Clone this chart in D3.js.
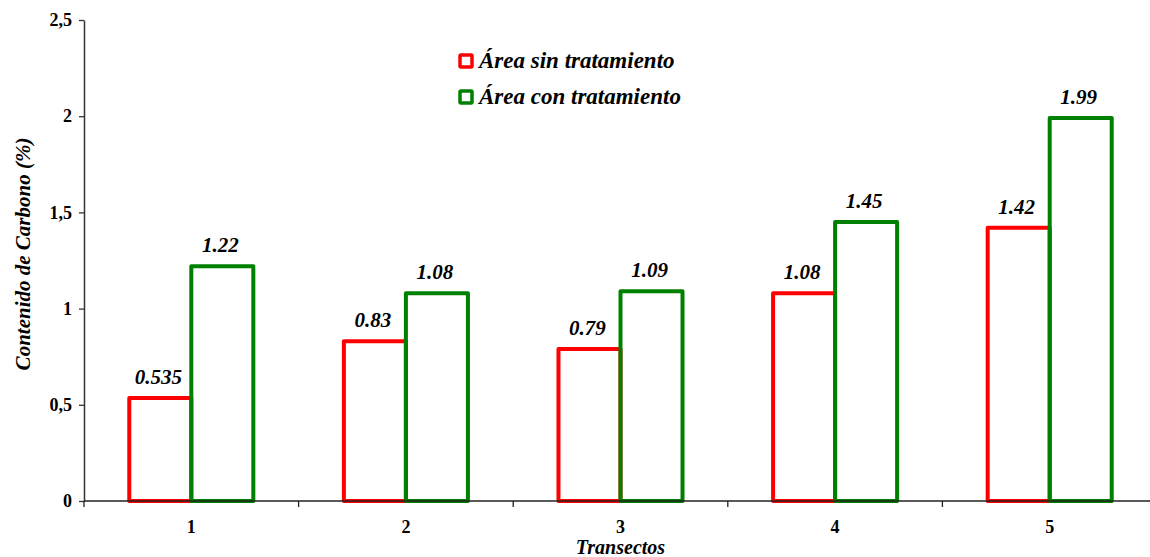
<!DOCTYPE html>
<html>
<head>
<meta charset="utf-8">
<script src="https://cdn.jsdelivr.net/npm/d3@7"></script>
<style>
  html, body { margin: 0; padding: 0; background: #fff; }
  svg { display: block; }
</style>
</head>
<body>
<svg id="chart" width="1150" height="557"></svg>
<script>
// Carbon content per transect, untreated vs treated area
const categories = ["1", "2", "3", "4", "5"];
const seriesNames = ["Área sin tratamiento", "Área con tratamiento"];
const sinTratamiento = [0.535, 0.83, 0.79, 1.08, 1.42];
const conTratamiento = [1.22, 1.08, 1.09, 1.45, 1.99];
const valueLabelsSin = ["0.535", "0.83", "0.79", "1.08", "1.42"];
const valueLabelsCon = ["1.22", "1.08", "1.09", "1.45", "1.99"];
const yTickValues = [0, 0.5, 1, 1.5, 2, 2.5];
const yTickLabels = ["0", "0,5", "1", "1,5", "2", "2,5"];
const seriesColors = ["#ff0000", "#008000"];

const FONT = "'Liberation Serif', 'Times New Roman', Times, serif";
const svg = d3.select("#chart");
const W = 1150;
const plotLeft = 84, plotRight = 1157, plotTop = 20, plotBottom = 501;

// shared text styling helper
function styleText(sel, size, italic) {
  return sel.style("font-family", FONT).style("font-weight", "bold")
    .style("font-style", italic ? "italic" : "normal")
    .style("font-size", size + "px").style("fill", "#000");
}

const x0 = d3.scaleBand().domain(categories).range([plotLeft, plotRight])
  .paddingInner(0.422).paddingOuter(0.211);
const x1 = d3.scaleBand().domain([0, 1]).range([0, x0.bandwidth()]);
const y = d3.scaleLinear().domain([0, 2.5]).range([plotBottom, plotTop]);

const series = [sinTratamiento, conTratamiento];
const labels = [valueLabelsSin, valueLabelsCon];

// Bars: outlined rectangles, treated series drawn on top
series.forEach((vals, s) => {
  svg.append("g").selectAll("rect").data(vals).join("rect")
    .attr("x", (d, i) => x0(categories[i]) + x1(s))
    .attr("y", d => y(d))
    .attr("width", x1.bandwidth())
    .attr("height", d => y(0) - y(d))
    .attr("fill", "none")
    .attr("stroke", seriesColors[s])
    .attr("stroke-width", 4)
    .attr("stroke-linejoin", "round");
});

// Value labels above each bar
series.forEach((vals, s) => {
  svg.append("g").selectAll("text").data(vals).join("text")
    .attr("x", (d, i) => x0(categories[i]) + x1(s) + x1.bandwidth() / 2 - 2)
    .attr("y", d => y(d) - 14)
    .attr("text-anchor", "middle")
    .call(styleText, 21, true)
    .text((d, i) => labels[s][i]);
});

// Y axis
const yAxis = d3.axisLeft(y).tickValues(yTickValues)
  .tickFormat((d, i) => yTickLabels[i]).tickSize(5).tickSizeOuter(0).tickPadding(7);
const gy = svg.append("g").attr("transform", `translate(${plotLeft},0)`).call(yAxis);
gy.select(".domain").attr("stroke", "#333").attr("stroke-width", 1.5);
gy.selectAll(".tick line").attr("stroke", "#333").attr("stroke-width", 1.3);
gy.selectAll(".tick text").call(styleText, 18, false);

// X axis baseline with ticks at category boundaries
const gx = svg.append("g");
gx.append("line").attr("x1", plotLeft).attr("x2", W).attr("y1", y(0)).attr("y2", y(0))
  .attr("stroke", "#222").attr("stroke-width", 1.5);
const boundaries = categories.map(c => x0(c) - x0.step() * x0.paddingInner() / 2);
gx.selectAll("line.b").data(boundaries).join("line").attr("class", "b")
  .attr("x1", d => d).attr("x2", d => d)
  .attr("y1", y(0)).attr("y2", y(0) + 6)
  .attr("stroke", "#222").attr("stroke-width", 1.3);
gx.selectAll("text").data(categories).join("text")
  .attr("x", d => x0(d) + x0.bandwidth() / 2)
  .attr("y", 533)
  .attr("text-anchor", "middle")
  .call(styleText, 18, false)
  .text(d => d);

// Axis titles
svg.append("text")
  .attr("transform", `translate(30,254) rotate(-90)`)
  .attr("text-anchor", "middle")
  .call(styleText, 21, true)
  .text("Contenido de Carbono (%)");
svg.append("text")
  .attr("x", x0("3") + x0.bandwidth() / 2).attr("y", 554)
  .attr("text-anchor", "middle")
  .call(styleText, 20, true)
  .text("Transectos");

// Legend
const legend = svg.append("g");
seriesNames.forEach((name, i) => {
  const ly = 61 + i * 36;
  legend.append("rect")
    .attr("x", 460).attr("y", ly - 6).attr("width", 12).attr("height", 12)
    .attr("fill", "none").attr("stroke", seriesColors[i]).attr("stroke-width", 3.5)
    .attr("rx", 1);
  legend.append("text")
    .attr("x", 479).attr("y", ly + 7)
    .call(styleText, 23, true)
    .text(name);
});
</script>
</body>
</html>
